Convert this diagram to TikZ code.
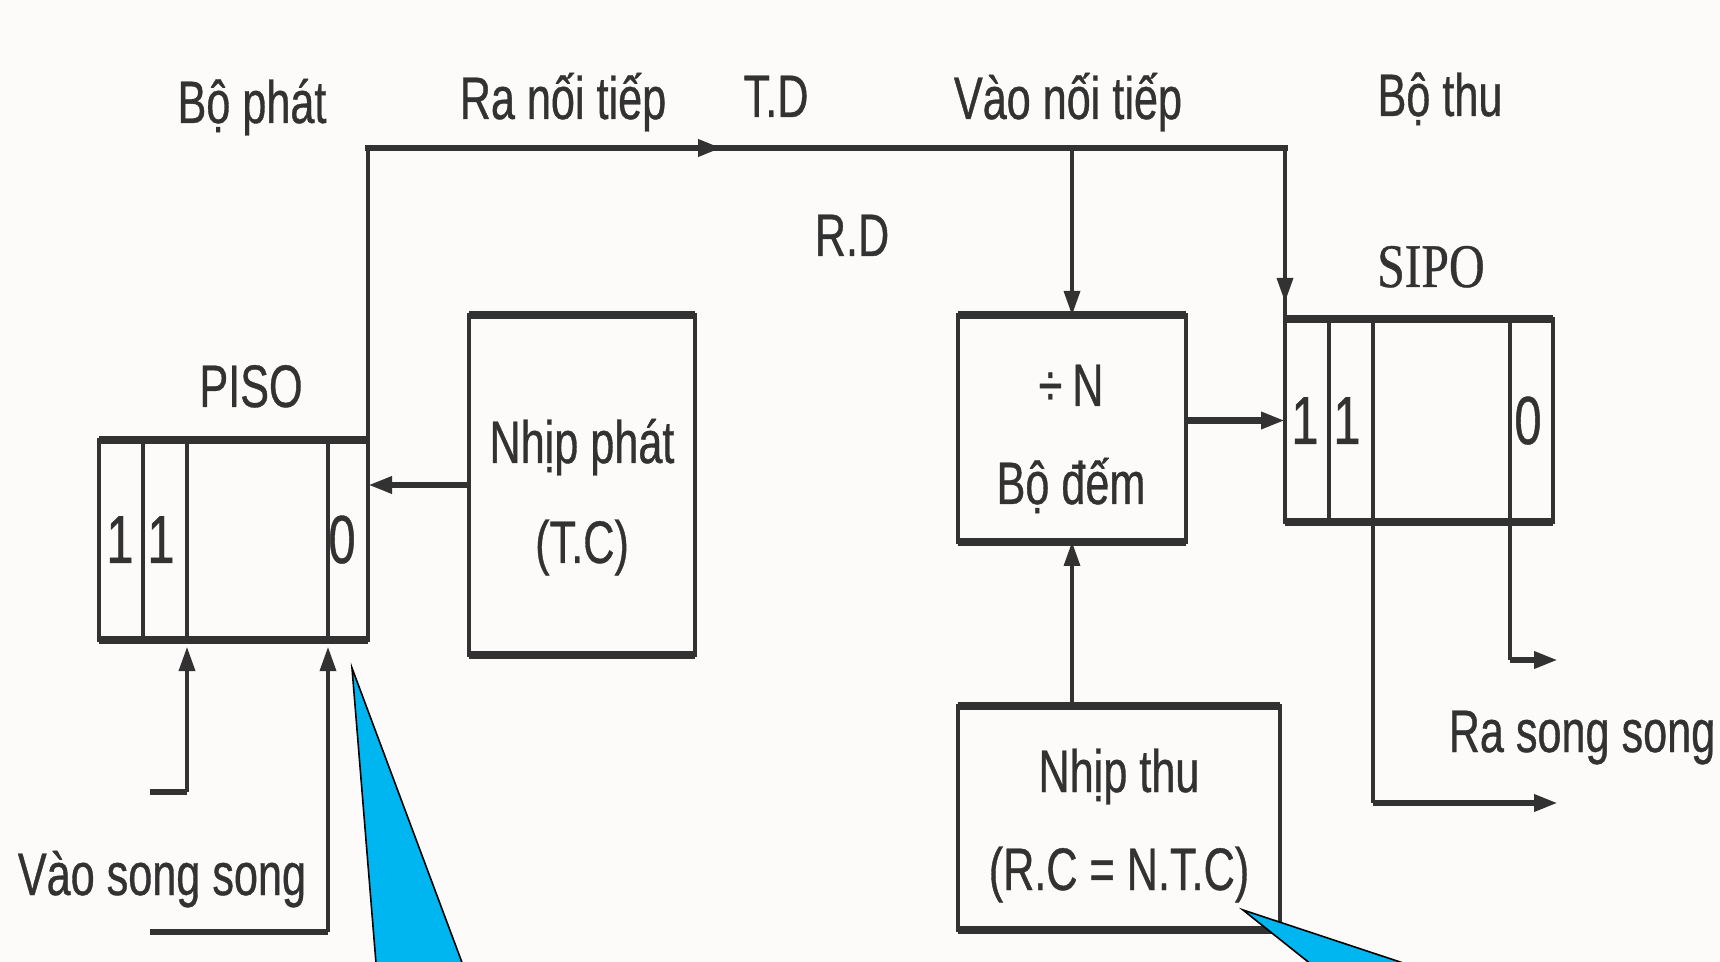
\documentclass[tikz,border=0pt]{standalone}
\usepackage{fontspec}
\setmainfont{Liberation Sans}[FakeStretch=0.72,FakeBold=0.6]
\newfontfamily\sipofont{Liberation Serif}[FakeStretch=0.8,FakeBold=0.6]
\usetikzlibrary{arrows.meta}
\definecolor{ink}{RGB}{50,50,50}
\definecolor{paper}{RGB}{252,251,249}
\definecolor{callout}{RGB}{0,182,240}
\begin{document}
\begin{tikzpicture}[x=0.5pt,y=-0.5pt,
  lbl/.style={font=\fontsize{30}{36}\selectfont, text=ink, anchor=base, inner sep=0pt, outer sep=0pt},
  dig/.style={font=\fontsize{34}{40}\selectfont, text=ink, anchor=base, inner sep=0pt, outer sep=0pt},
  box/.style={draw=ink, line width=2.3pt, inner sep=0pt, outer sep=0pt},
  boxedge/.style={draw=ink, line width=4.2pt},
  hl/.style={draw=ink, line width=3.3pt},
  vl/.style={draw=ink, line width=1.7pt},
  arr/.style={-{Triangle[length=12pt,width=8pt]}},
  pointer/.style={fill=callout, draw=black, line width=0.8pt, line join=miter}
]
\useasboundingbox (0,0) rectangle (1720,962);
\clip (0,0) rectangle (1720,962);
\fill[paper] (0,0) rectangle (1720,962);

% ---- boxes
\node[box, minimum width=134.5pt, minimum height=100pt] (piso) at (233.5,540) {};
\node[box, minimum width=113pt, minimum height=170pt] (nhp) at (582,485) {};
\node[box, minimum width=114pt, minimum height=113.5pt] (dem) at (1072,428.5) {};
\node[box, minimum width=134pt, minimum height=101.5pt] (sipo) at (1419,420.5) {};
\node[box, minimum width=161pt, minimum height=112pt] (nht) at (1119,818) {};

\foreach \b in {piso,nhp,dem,sipo,nht}{
  \draw[boxedge] (\b.north west) -- (\b.north east);
  \draw[boxedge] (\b.south west) -- (\b.south east);
}

% ---- register cell dividers
\foreach \n/\x in {pdA/143,pdB/187,pdC/328,sdA/1329,sdB/1373,sdC/1510}
  \coordinate (\n) at (\x,0);
\foreach \n in {pdA,pdB,pdC}
  \draw[vl] (\n |- piso.north) -- (\n |- piso.south);
\foreach \n in {sdA,sdB,sdC}
  \draw[vl] (\n |- sipo.north) -- (\n |- sipo.south);

% ---- texts
\node[lbl] (tbophat) at (252,123) {Bộ phát};
\node[lbl] (tranoi) at (563,119) {Ra nối tiếp};
\node[lbl] (ttd) at (776,117) {T.D};
\node[lbl] (tvaonoi) at (1068,119) {Vào nối tiếp};
\node[lbl] (tbothu) at (1440,116) {Bộ thu};
\node[lbl] (trd) at (852,256) {R.D};
\node[lbl, font=\sipofont\fontsize{31}{36}\selectfont] (tsipo) at (1431,287) {SIPO};
\node[lbl] (tpiso) at (251,407) {PISO};
\node[lbl] (tnhp1) at (582,463) {Nhịp phát};
\node[lbl] (tnhp2) at (582,563) {(T.C)};
\node[lbl] (tdem1) at (1071,406) {÷\,N};
\node[lbl] (tdem2) at (1071,504) {Bộ đếm};
\node[lbl] (tnht1) at (1119,792) {Nhịp thu};
\node[lbl] (tnht2) at (1119,890) {(R.C = N.T.C)};
\node[lbl] (trass) at (1582,752) {Ra song song};
\node[lbl] (tvaoss) at (162,895) {Vào song song};

\node[dig] (p1) at (120,563) {1};
\node[dig] (p2) at (161,563) {1};
\node[dig] (p0) at (342,563) {0};
\node[dig] (s1) at (1305,444) {1};
\node[dig] (s2) at (1347,444) {1};
\node[dig] (s0) at (1528,444) {0};

% ---- connectors
\coordinate (tl) at (368,148);
\coordinate (tdmid) at (722,148);
\coordinate (tr) at (1285,148);
\coordinate (rdmid) at (1285,302);

\draw[vl] (piso.north east) -- (tl);
\draw[vl] (tr) -- (sipo.north west);
\draw[vl,arr] (tr) -- (rdmid);
\draw[hl, line cap=rect] (tl) -- (tr);
\draw[hl,arr] (tl) -- (tdmid);
\draw[vl,arr] (dem.north |- tl) -- (dem.north);

\draw[hl,arr] (nhp.west) -- (nhp.west -| piso.east);
\draw[hl,arr] (sipo.west -| dem.east) -- (sipo.west);
\draw[vl,arr] (nht.north -| dem.south) -- (dem.south);

% parallel inputs
\coordinate (inA) at (150,792);
\coordinate (inB) at (150,932);
\draw[hl] (inA) -- (inA -| pdB);
\draw[vl,arr,shorten >=3.5pt] (inA -| pdB) -- (pdB |- piso.south);
\draw[hl] (inB) -- (inB -| pdC);
\draw[vl,arr,shorten >=3.5pt] (inB -| pdC) -- (pdC |- piso.south);

% parallel outputs
\coordinate (outA) at (1558,660);
\coordinate (outB) at (1558,803);
\draw[vl] (sdC |- sipo.south) -- (sdC |- outA);
\draw[hl,arr] (sdC |- outA) -- (outA);
\draw[vl] (sdB |- sipo.south) -- (sdB |- outB);
\draw[hl,arr] (sdB |- outB) -- (outB);

% ---- callout pointers
\filldraw[pointer] (352,668) -- (379,1000) -- (476,1000) -- cycle;
\filldraw[pointer] (1243,910) -- (1356,1000) -- (1515,1000) -- cycle;
\end{tikzpicture}
\end{document}
